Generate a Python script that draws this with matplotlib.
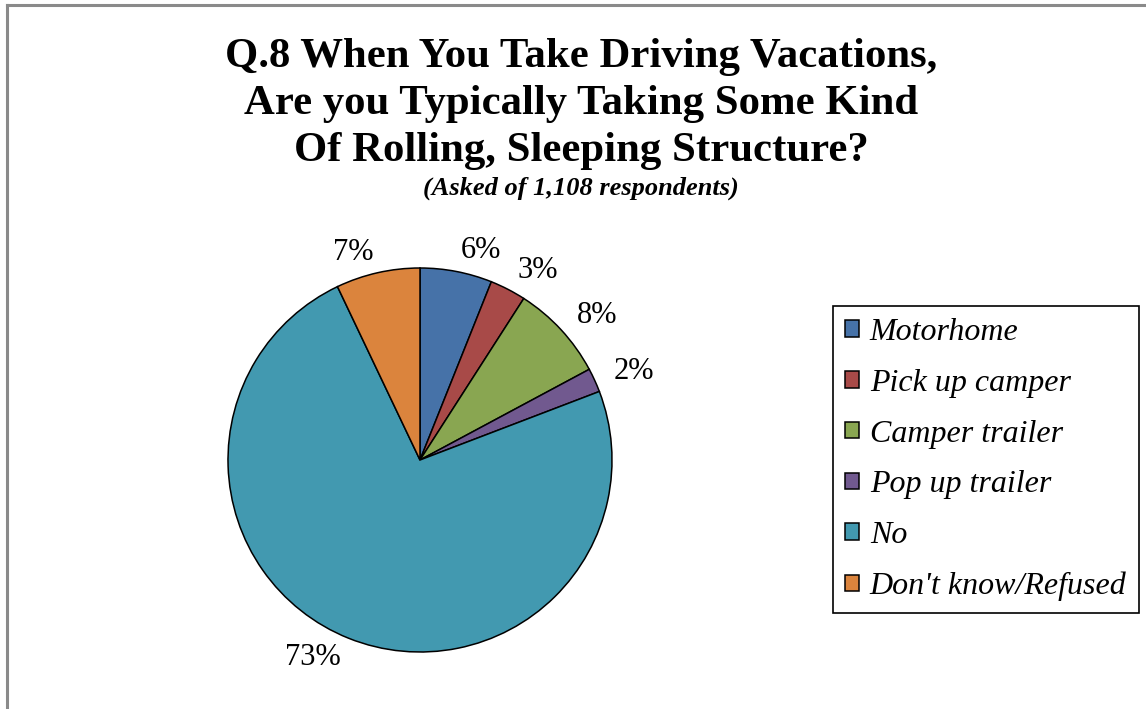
import matplotlib
matplotlib.use("Agg")
import matplotlib.pyplot as plt
from matplotlib.lines import Line2D

categories = ["Motorhome", "Pick up camper", "Camper trailer", "Pop up trailer", "No", "Don't know/Refused"]
values = [6, 3, 8, 2, 73, 7]
labels_pct = ["6%", "3%", "8%", "2%", "73%", "7%"]
colors = ["#4672A8", "#A84A48", "#89A651", "#71598F", "#4299B0", "#DB843D"]

W, H = 1146, 709
fig = plt.figure(figsize=(W / 100, H / 100), dpi=100)
fig.patch.set_facecolor("white")

serif = ["Liberation Serif", "DejaVu Serif"]

# figure border (top & left gray lines)
fig.add_artist(Line2D([6.5 / W, 1], [1 - 4.5 / H, 1 - 4.5 / H], transform=fig.transFigure, color="#8a8a8a", lw=2.2))
fig.add_artist(Line2D([6.5 / W, 6.5 / W], [0, 1 - 4.5 / H], transform=fig.transFigure, color="#8a8a8a", lw=2.2))

cx, cy, r = 420, 460, 192
ax = fig.add_axes([(cx - r) / W, (H - cy - r) / H, 2 * r / W, 2 * r / H])
wedges, texts = ax.pie(values, labels=labels_pct, colors=colors, startangle=90, counterclock=False,
                       labeldistance=1.11,
                       wedgeprops=dict(edgecolor="black", linewidth=1.1),
                       textprops=dict(fontsize=22, family=serif))
ax.set_xlim(-1, 1)
ax.set_ylim(-1, 1)
ax.set_aspect("equal")
ax.axis("off")

fig.text(0.507, 1 - 104 / H, "Q.8 When You Take Driving Vacations,\nAre you Typically Taking Some Kind\nOf Rolling, Sleeping Structure?",
         ha="center", va="center", fontsize=30.8, fontweight="bold", family=serif, linespacing=1.32)
fig.text(0.507, 1 - 188 / H, "(Asked of 1,108 respondents)", ha="center", va="center",
         fontsize=19, fontweight="bold", fontstyle="italic", family=serif)

leg = fig.legend(wedges, categories, loc="upper left", bbox_to_anchor=(833 / W, 1 - 306 / H),
                 frameon=True, fancybox=False, edgecolor="black", framealpha=1,
                 prop=dict(family=serif, style="italic", size=23),
                 handlelength=0.42, handleheight=0.42, handletextpad=0.35,
                 labelspacing=0.68, borderpad=0.38, borderaxespad=0)
leg.get_frame().set_linewidth(1.2)

fig.savefig("out.png", dpi=100)
